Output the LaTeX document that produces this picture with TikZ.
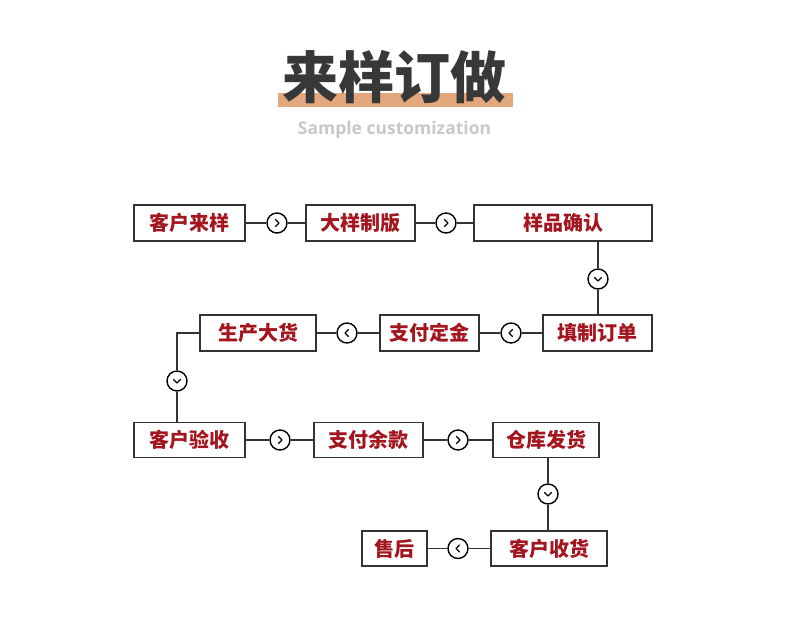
\documentclass[tikz,border=0pt]{standalone}
\usepackage{fontspec}
\newfontfamily\cjk{Noto Sans CJK SC}
\newfontfamily\cjkblack{Noto Sans CJK SC Black}
\newfontfamily\eng{Open Sans}
\definecolor{redtxt}{HTML}{A3161F}
\definecolor{bar}{HTML}{E2A77D}
\definecolor{titlegray}{HTML}{383838}
\definecolor{subgray}{HTML}{C8C8C8}
\definecolor{linegray}{HTML}{333333}
\tikzset{
  stepbox/.style={draw=linegray, line width=1.3pt, fill=white, minimum height=36, inner sep=0pt,
    font=\cjk\bfseries\fontsize{20}{20}\selectfont, text=redtxt},
  circ/.style={circle, draw=black, line width=1.4pt, fill=white, minimum size=20, inner sep=0pt},
  conn/.style={draw=linegray, line width=1.2pt},
  chev/.style={draw=black, line width=1.3pt, line cap=round, line join=round}
}
\newcommand{\chevR}[1]{\draw[chev] ([shift={(-1.5,-3.5)}]#1.center) -- ([shift={(2,0)}]#1.center) -- ([shift={(-1.5,3.5)}]#1.center);}
\newcommand{\chevL}[1]{\draw[chev] ([shift={(1.5,-3.5)}]#1.center) -- ([shift={(-2,0)}]#1.center) -- ([shift={(1.5,3.5)}]#1.center);}
\newcommand{\chevD}[1]{\draw[chev] ([shift={(-3.5,-1.5)}]#1.center) -- ([shift={(0,2)}]#1.center) -- ([shift={(3.5,-1.5)}]#1.center);}
\begin{document}
\begin{tikzpicture}[x=1pt,y=-1pt]
\useasboundingbox (0,0) rectangle (790,625);
\fill[white] (0,0) rectangle (790,625);
% title
\fill[bar] (278,93) rectangle (513,107);
\node[font=\cjkblack\fontsize{56}{56}\selectfont, text=titlegray, inner sep=0pt] (title) at (394,77) {来样订做};
\node[font=\eng\bfseries\fontsize{17.5}{17.5}\selectfont, text=subgray, inner sep=0pt] (sub) at (394.5,130) {Sample customization};
% boxes
\node[stepbox, minimum width=111] (n1) at (189.5,223) {客户来样};
\node[stepbox, minimum width=109] (n2) at (360.5,223) {大样制版};
\node[stepbox, minimum width=178] (n3) at (563,223) {样品确认};
\node[stepbox, minimum width=109] (n4) at (597.5,333) {填制订单};
\node[stepbox, minimum width=99] (n5) at (429.5,333) {支付定金};
\node[stepbox, minimum width=116] (n6) at (258,333) {生产大货};
\node[stepbox, minimum width=111, minimum height=35] (n7) at (189.5,440) {客户验收};
\node[stepbox, minimum width=109, minimum height=35] (n8) at (368.5,440) {支付余款};
\node[stepbox, minimum width=106, minimum height=35] (n9) at (546,440) {仓库发货};
\node[stepbox, minimum width=116, minimum height=35] (n10) at (549,548.5) {客户收货};
\node[stepbox, minimum width=65, minimum height=35] (n11) at (394.5,548.5) {售后};
% circles
\node[circ] (c1) at (277,223) {};
\node[circ] (c2) at (446,223) {};
\node[circ] (c3) at (598,279) {};
\node[circ] (c4) at (511,333) {};
\node[circ] (c5) at (347,333) {};
\node[circ] (c6) at (177,381) {};
\node[circ] (c7) at (280,440) {};
\node[circ] (c8) at (458,440) {};
\node[circ] (c9) at (548,494) {};
\node[circ] (c10) at (458,548.5) {};
% connectors
\draw[conn] (n1) -- (c1) -- (n2);
\draw[conn] (n2) -- (c2) -- (n3);
\draw[conn] (c3 |- n3.south) -- (c3) -- (c3 |- n4.north);
\draw[conn] (n4) -- (c4) -- (n5);
\draw[conn] (n5) -- (c5) -- (n6);
\draw[conn] (n6.west) -| (c6.north);
\draw[conn] (c6.south) -- (c6 |- n7.north);
\draw[conn] (n7) -- (c7) -- (n8);
\draw[conn] (n8) -- (c8) -- (n9);
\draw[conn] (c9 |- n9.south) -- (c9) -- (c9 |- n10.north);
\draw[conn] (n10) -- (c10) -- (n11);
% chevrons
\chevR{c1}\chevR{c2}\chevD{c3}\chevL{c4}\chevL{c5}\chevD{c6}\chevR{c7}\chevR{c8}\chevD{c9}\chevL{c10}
\end{tikzpicture}
\end{document}
